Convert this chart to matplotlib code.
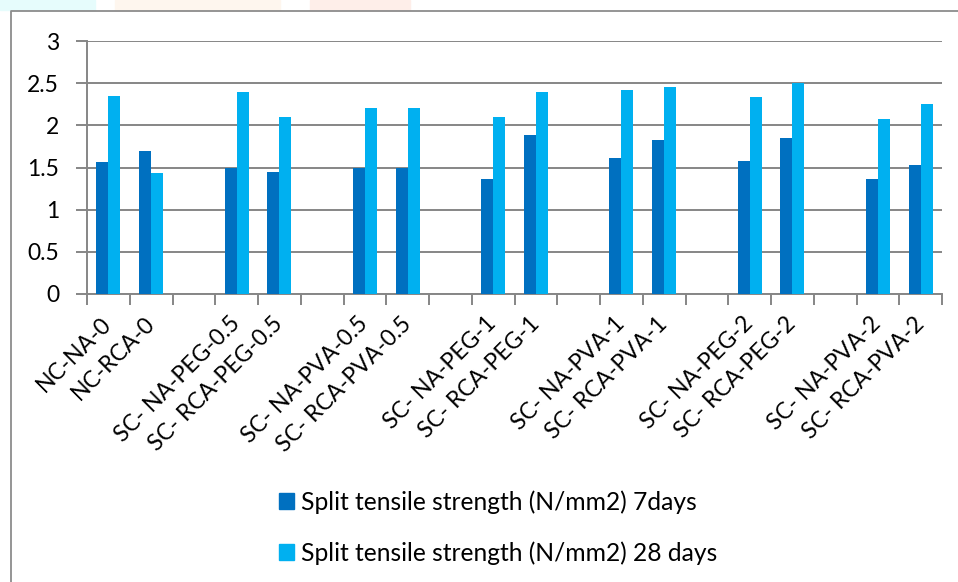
import matplotlib
matplotlib.use("Agg")
import matplotlib.pyplot as plt
from matplotlib.lines import Line2D
from matplotlib.patches import Rectangle

categories = ["NC-NA-0", "NC-RCA-0",
              "SC- NA-PEG-0.5", "SC- RCA-PEG-0.5",
              "SC- NA-PVA-0.5", "SC- RCA-PVA-0.5",
              "SC- NA-PEG-1", "SC- RCA-PEG-1",
              "SC- NA-PVA-1", "SC- RCA-PVA-1",
              "SC- NA-PEG-2", "SC- RCA-PEG-2",
              "SC- NA-PVA-2", "SC- RCA-PVA-2"]
split_7days = [1.57, 1.69, 1.49, 1.45, 1.49, 1.49, 1.36, 1.89, 1.61, 1.83, 1.58, 1.85, 1.36, 1.53]
split_28days = [2.35, 1.43, 2.40, 2.10, 2.20, 2.20, 2.10, 2.40, 2.42, 2.45, 2.34, 2.50, 2.08, 2.25]
series_names = ["Split tensile strength (N/mm2) 7days",
                "Split tensile strength (N/mm2) 28 days"]
yticks = [0, 0.5, 1, 1.5, 2, 2.5, 3]
ytick_labels = ["0", "0.5", "1", "1.5", "2", "2.5", "3"]

FONT = ["Lato", "DejaVu Sans"]
plt.rcParams['font.family'] = FONT

DARK = "#0070C0"
LIGHT = "#00B0F0"
GRID = "#868686"

fig = plt.figure(figsize=(9.58, 5.82), dpi=100)
W, H = 958, 582

# faint decorative strip at top
fig.patches.append(Rectangle((0, 1 - 10 / H), 95 / W, 10 / H, transform=fig.transFigure,
                             color="#e6fcfc", zorder=0))
fig.patches.append(Rectangle((115 / W, 1 - 10 / H), 165 / W, 10 / H, transform=fig.transFigure,
                             color="#fef6ee", zorder=0))
fig.patches.append(Rectangle((310 / W, 1 - 10 / H), 100 / W, 10 / H, transform=fig.transFigure,
                             color="#feeee9", zorder=0))

# chart area border
fig.add_artist(Line2D([11 / W, 11 / W, 1.0], [0.0, 1 - 11 / H, 1 - 11 / H],
                      transform=fig.transFigure, color="#8c8c8c", lw=1.3))

ax = fig.add_axes([87 / W, 1 - 294 / H, (942 - 87) / W, (294 - 41) / H])

# slot positions: first pair at 0,1 then a gap before each following pair
pos = [3 * (i // 2) + (i % 2) for i in range(len(categories))]
bw = 0.28
ax.bar([p - bw / 2 for p in pos], split_7days, width=bw, color=DARK, label=series_names[0], zorder=3)
ax.bar([p + bw / 2 for p in pos], split_28days, width=bw, color=LIGHT, label=series_names[1], zorder=3)

ax.set_xlim(-0.5, 19.5)
ax.set_ylim(0, 3)
ax.set_yticks(yticks)
ax.set_yticklabels(ytick_labels, fontsize=16.5, color="black")
ax.yaxis.grid(True, color=GRID, lw=1.4, zorder=0)
ax.set_axisbelow(True)

ax.set_xticks(pos)
ax.set_xticklabels(categories, rotation=45, ha="right", va="center",
                   rotation_mode="anchor", fontsize=16.5)
ax.tick_params(axis="x", which="major", length=0, pad=19)
ax.set_xticks([i - 0.5 for i in range(21)], minor=True)
ax.tick_params(axis="x", which="minor", length=8, width=1.4, color=GRID, direction="out")
ax.tick_params(axis="y", length=8, width=1.4, color=GRID, direction="out", pad=12)

for s in ["top", "right"]:
    ax.spines[s].set_visible(False)
for s in ["left", "bottom"]:
    ax.spines[s].set_color(GRID)
    ax.spines[s].set_linewidth(1.4)

handles = [Rectangle((0, 0), 1, 1, color=DARK), Rectangle((0, 0), 1, 1, color=LIGHT)]
leg = fig.legend(handles, series_names, loc="upper left",
                 bbox_to_anchor=(257 / W, 1 - 468 / H), frameon=False,
                 fontsize=17.7, handlelength=0.6, handleheight=0.6,
                 handletextpad=0.3, labelspacing=1.12)

fig.savefig("out.png", dpi=100)
